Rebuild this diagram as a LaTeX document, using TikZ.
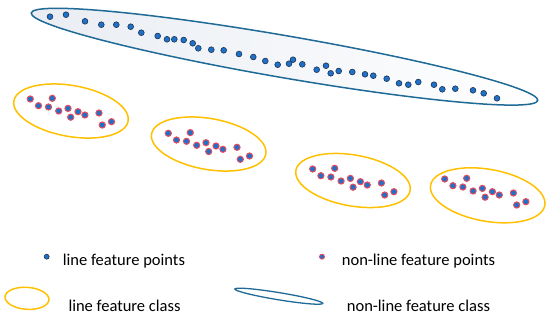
\documentclass[tikz,border=0pt]{standalone}
\usepackage{fontspec}
\setmainfont{Carlito}
\usetikzlibrary{shapes.geometric}
\definecolor{tealc}{HTML}{1F6A96}
\definecolor{yellowc}{HTML}{FFC000}
\definecolor{dotblue}{HTML}{1F70C8}
\definecolor{dotdark}{HTML}{1E3552}
\definecolor{ringred}{HTML}{E84C5C}
\definecolor{bigfill}{HTML}{E9EDF3}
\tikzset{
  lpt/.style={circle, fill=dotblue, draw=dotdark, line width=0.6pt, inner sep=0pt, minimum size=5.8pt},
  npt/.style={circle, fill=dotblue, draw=ringred, line width=1pt, inner sep=0pt, minimum size=6.2pt},
  yell/.style={draw=yellowc, line width=1.5pt},
  tealell/.style={draw=tealc, line width=1.5pt},
  legtext/.style={anchor=base west, inner sep=0pt, font=\fontsize{16.5}{19}\selectfont, text=black}
}
\newcommand{\dotpattern}[2]{%
  \begin{scope}[shift={(#1,#2)}]
    \foreach \px/\py in {0/0, 8.2/6.7, 22/-0.7, 18.2/8, 28.4/12, 37.7/9.4, 40.4/18.2, 47.7/12.7, 54.6/16, 68.7/14, 72/26, 81.2/22.7}
      \node[npt] at (\px,\py) {};
  \end{scope}}
\begin{document}
\begin{tikzpicture}[x=1pt,y=-1pt]
\useasboundingbox (0,0) rectangle (550,322);
% big non-line class ellipse
\shade[left color=bigfill, right color=white, rotate around={-9.8:(284.5,56.7)}]
  (284.5,56.7) ellipse [x radius=257pt, y radius=21pt];
\draw[tealell, rotate around={-9.8:(284.5,56.7)}]
  (284.5,56.7) ellipse [x radius=257pt, y radius=21pt];
% points of the big class
\foreach \px/\py in {50/16.7, 66/14.7, 85/21.3, 101.3/24.7, 116.3/24.7, 130.7/26.7, 141.3/32.7, 157.7/36, 167/39.3, 174.3/39.3, 183.7/40, 192.7/43.3, 198.3/48.3, 211.3/49.7, 223.7/50.3, 239/54, 253.3/57, 265.3/61, 277.7/64.7, 289/63.7, 293/59.7, 302.3/64.3, 316.7/69.7, 326/65.7, 330.7/73.3, 338.7/71, 352.3/72, 365/74.3, 373.3/75.7, 386.7/78.7, 399/83.3, 408.3/84.7, 418.3/82, 434/84.7, 442.3/89.3, 455.3/88.7, 473/90.3, 483.7/93.3, 497/98.3}
  \node[lpt] at (\px,\py) {};
% small classes
\draw[yell, rotate around={-10:(71,111)}] (71,111) ellipse [x radius=58pt, y radius=25.5pt];
\draw[yell, rotate around={-10:(208.7,144)}] (208.7,144) ellipse [x radius=58pt, y radius=25.5pt];
\draw[yell, rotate around={-10:(353,180.5)}] (353,180.5) ellipse [x radius=58pt, y radius=25.5pt];
\draw[yell, rotate around={-10:(487.7,195.3)}] (487.7,195.3) ellipse [x radius=58pt, y radius=26pt];
\dotpattern{30.3}{99}
\dotpattern{168.3}{133.3}
\dotpattern{312.7}{169}
\dotpattern{444.7}{179}
% legend
\node[lpt, minimum size=5pt] (legA) at (46.7,256.7) {};
\node[legtext] (legAt) at (62.7,265) {line feature points};
\node[npt, minimum size=5pt, line width=0.9pt] (legB) at (322,256.7) {};
\node[legtext] (legBt) at (341.7,265) {non-line feature points};
\draw[yell, rotate around={-4:(27,298.3)}] (27,298.3) ellipse [x radius=22pt, y radius=11pt];
\node[legtext] (legCt) at (68.3,311.5) {line feature class};
\draw[draw=tealc, line width=1.3pt, rotate around={-9.3:(278.8,296.2)}] (278.8,296.2) ellipse [x radius=44.5pt, y radius=3.6pt];
\node[legtext] (legDt) at (346.7,311.5) {non-line feature class};
\end{tikzpicture}
\end{document}
